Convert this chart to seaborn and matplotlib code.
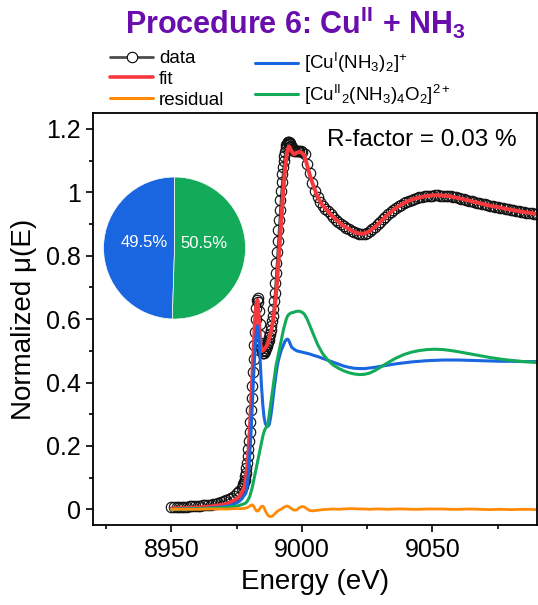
import matplotlib
matplotlib.use("Agg")
import matplotlib.pyplot as plt
from matplotlib.lines import Line2D
from matplotlib.ticker import MultipleLocator, FuncFormatter
import seaborn as sns

# measured spectrum (open circles)
energy_data = [
    8950, 8951, 8952, 8953, 8954, 8955, 8956, 8957, 8958, 8959,
    8960, 8961, 8962, 8963, 8964, 8965, 8966, 8967, 8968, 8969,
    8970, 8971, 8972, 8973, 8974, 8975, 8976, 8977,
    8977.25, 8977.5, 8977.75, 8978,
    8978.25, 8978.5, 8978.75, 8979,
    8979.25, 8979.5, 8979.75, 8980,
    8980.25, 8980.5, 8980.75, 8981,
    8981.25, 8981.5, 8981.75, 8982,
    8982.25, 8982.5, 8982.75, 8983,
    8983.25, 8983.5, 8983.75, 8984,
    8984.25, 8984.5, 8984.75, 8985,
    8985.25, 8985.5, 8985.75, 8986,
    8986.25, 8986.5, 8986.75, 8987,
    8987.25, 8987.5, 8987.75, 8988,
    8988.25, 8988.5, 8988.75, 8989,
    8989.25, 8989.5, 8989.75, 8990,
    8990.25, 8990.5, 8990.75, 8991,
    8991.25, 8991.5, 8991.75, 8992,
    8992.25, 8992.5, 8992.75, 8993,
    8993.25, 8993.5, 8993.75, 8994,
    8994.25, 8994.5, 8994.75, 8995,
    8995.25, 8995.5, 8995.75, 8996,
    8996.5, 8997, 8997.5, 8998, 8998.5, 8999, 8999.5, 9000,
    9001, 9002, 9003, 9004, 9005, 9006, 9007, 9008, 9009, 9010,
    9011, 9012, 9013, 9014, 9015, 9016, 9017, 9018, 9019, 9020,
    9021, 9022, 9023, 9024, 9025, 9026, 9027, 9028, 9029, 9030,
    9031, 9032, 9033, 9034, 9035, 9036, 9037, 9038, 9039, 9040,
    9041, 9042, 9043, 9044, 9045, 9046, 9047, 9048, 9049, 9050,
    9051, 9052, 9053, 9054, 9055, 9056, 9057, 9058, 9059, 9060,
    9061, 9062, 9063, 9064, 9065, 9066, 9067, 9068, 9069, 9070,
    9071, 9072, 9073, 9074, 9075, 9076, 9077, 9078, 9079, 9080,
    9081, 9082, 9083, 9084, 9085, 9086, 9087, 9088, 9089, 9090,
]
mu_data = [
    0.006, 0.006, 0.006, 0.007, 0.007, 0.008, 0.008, 0.009, 0.009, 0.010,
    0.010, 0.011, 0.012, 0.013, 0.014, 0.015, 0.016, 0.018, 0.020, 0.022,
    0.025, 0.028, 0.032, 0.037, 0.043, 0.050, 0.058, 0.068,
    0.073, 0.079, 0.086, 0.094,
    0.104, 0.116, 0.130, 0.147,
    0.167, 0.190, 0.216, 0.245,
    0.277, 0.312, 0.350, 0.390,
    0.432, 0.475, 0.518, 0.560,
    0.600, 0.635, 0.660, 0.668,
    0.655, 0.625, 0.585, 0.550,
    0.525, 0.508, 0.498, 0.493,
    0.492, 0.494, 0.498, 0.503,
    0.508, 0.514, 0.520, 0.527,
    0.535, 0.544, 0.554, 0.565,
    0.578, 0.593, 0.611, 0.632,
    0.656, 0.683, 0.713, 0.745,
    0.778, 0.812, 0.846, 0.880,
    0.913, 0.945, 0.976, 1.005,
    1.032, 1.057, 1.079, 1.098,
    1.114, 1.128, 1.139, 1.148,
    1.154, 1.158, 1.160, 1.159,
    1.156, 1.152, 1.147, 1.142,
    1.137, 1.132, 1.129, 1.129, 1.131, 1.132, 1.131, 1.128,
    1.120, 1.090, 1.060, 1.030, 1.005, 0.985, 0.970, 0.958, 0.948, 0.940,
    0.932, 0.922, 0.914, 0.907, 0.900, 0.894, 0.889, 0.884, 0.879, 0.875,
    0.872, 0.870, 0.869, 0.870, 0.873, 0.878, 0.884, 0.891, 0.899, 0.907,
    0.915, 0.923, 0.931, 0.938, 0.945, 0.951, 0.956, 0.961, 0.966, 0.970,
    0.974, 0.977, 0.980, 0.982, 0.984, 0.986, 0.988, 0.989, 0.990, 0.990,
    0.991, 0.991, 0.990, 0.990, 0.989, 0.988, 0.987, 0.985, 0.984, 0.982,
    0.980, 0.978, 0.976, 0.974, 0.972, 0.970, 0.968, 0.966, 0.964, 0.962,
    0.960, 0.958, 0.956, 0.955, 0.954, 0.952, 0.950, 0.948, 0.946, 0.945,
    0.943, 0.942, 0.940, 0.939, 0.938, 0.936, 0.935, 0.934, 0.933, 0.932,
]

# LCF fit, the two reference components and the residual
energy_fit = [
    8950, 8955, 8960, 8965, 8970, 8972, 8974, 8976, 8977, 8978,
    8978.5, 8979, 8979.5, 8980, 8980.5, 8981, 8981.5, 8982, 8982.5, 8983,
    8983.5, 8984, 8984.5, 8985, 8985.5, 8986, 8986.5, 8987, 8987.5, 8988,
    8988.5, 8989, 8989.5, 8990, 8990.5, 8991, 8991.5, 8992, 8992.5, 8993,
    8993.5, 8994, 8994.5, 8995, 8995.5, 8996, 8997, 8998, 8999, 9000,
    9001, 9002, 9003, 9004, 9006, 9008, 9010, 9012, 9014, 9016,
    9018, 9020, 9022, 9024, 9026, 9028, 9030, 9033, 9036, 9039,
    9042, 9045, 9048, 9051, 9054, 9057, 9060, 9064, 9068, 9072,
    9076, 9080, 9085, 9090,
]
mu_fit = [
    0.003, 0.004, 0.006, 0.009, 0.015, 0.020, 0.028, 0.040, 0.052, 0.072,
    0.095, 0.13, 0.18, 0.25, 0.33, 0.42, 0.51, 0.59, 0.645, 0.66,
    0.60, 0.53, 0.50, 0.50, 0.505, 0.51, 0.515, 0.525, 0.54, 0.555,
    0.575, 0.60, 0.63, 0.67, 0.72, 0.78, 0.84, 0.90, 0.96, 1.02,
    1.07, 1.11, 1.135, 1.145, 1.14, 1.13, 1.12, 1.125, 1.128, 1.125,
    1.115, 1.085, 1.055, 1.03, 0.985, 0.958, 0.94, 0.922, 0.907, 0.894,
    0.884, 0.875, 0.870, 0.870, 0.878, 0.891, 0.907, 0.931, 0.951, 0.966,
    0.977, 0.984, 0.989, 0.991, 0.990, 0.987, 0.982, 0.974, 0.966, 0.958,
    0.952, 0.945, 0.938, 0.932,
]
mu_cu1 = [
    0.000, 0.001, 0.002, 0.004, 0.008, 0.011, 0.016, 0.025, 0.033, 0.045,
    0.05, 0.07, 0.11, 0.17, 0.24, 0.33, 0.42, 0.50, 0.555, 0.578,
    0.55, 0.47, 0.39, 0.33, 0.29, 0.27, 0.262, 0.262, 0.268, 0.29,
    0.32, 0.355, 0.39, 0.42, 0.45, 0.47, 0.485, 0.50, 0.51, 0.52,
    0.53, 0.535, 0.537, 0.532, 0.522, 0.512, 0.505, 0.50, 0.498, 0.496,
    0.494, 0.492, 0.49, 0.487, 0.482, 0.476, 0.47, 0.464, 0.458, 0.452,
    0.448, 0.445, 0.444, 0.444, 0.446, 0.448, 0.451, 0.455, 0.459, 0.462,
    0.465, 0.467, 0.469, 0.470, 0.471, 0.471, 0.471, 0.470, 0.469, 0.468,
    0.467, 0.467, 0.466, 0.466,
]
mu_cu2 = [
    0.000, 0.001, 0.002, 0.003, 0.005, 0.007, 0.009, 0.012, 0.015, 0.018,
    0.02, 0.025, 0.032, 0.04, 0.055, 0.07, 0.09, 0.11, 0.13, 0.15,
    0.17, 0.19, 0.21, 0.23, 0.245, 0.255, 0.26, 0.27, 0.30, 0.33,
    0.36, 0.39, 0.42, 0.45, 0.47, 0.49, 0.51, 0.53, 0.55, 0.57,
    0.585, 0.60, 0.61, 0.615, 0.618, 0.62, 0.622, 0.625, 0.625, 0.622,
    0.615, 0.60, 0.58, 0.56, 0.52, 0.49, 0.47, 0.455, 0.445, 0.437,
    0.431, 0.427, 0.425, 0.426, 0.430, 0.438, 0.448, 0.463, 0.477, 0.488,
    0.496, 0.501, 0.504, 0.505, 0.504, 0.501, 0.497, 0.491, 0.485, 0.479,
    0.474, 0.470, 0.466, 0.463,
]
mu_resid = [
    0.000, 0.000, 0.000, 0.001, 0.001, 0.001, 0.002, 0.002, 0.002, 0.003,
    0.004, 0.005, 0.007, 0.010, 0.013, 0.014, 0.010, 0.002, -0.004, -0.006,
    -0.003, 0.004, 0.009, 0.010, 0.005, -0.005, -0.013, -0.019, -0.022, -0.023,
    -0.022, -0.019, -0.015, -0.011, -0.007, -0.004, -0.002, 0.000, 0.003, 0.006,
    0.008, 0.010, 0.010, 0.008, 0.005, 0.002, -0.003, -0.002, 0.005, 0.009,
    0.007, 0.001, -0.004, -0.005, -0.003, -0.001, 0.000, 0.001, 0.000, 0.001,
    0.002, 0.002, 0.001, 0.001, 0.000, 0.001, 0.001, 0.000, 0.001, 0.001,
    0.000, 0.000, 0.001, 0.001, 0.001, 0.000, 0.000, 0.001, 0.000, -0.001,
    0.000, -0.001, 0.000, -0.001,
]

# component fractions for the inset pie
pie_fractions = [49.5, 50.5]

lbl_cu1 = r"[Cu$^{\mathrm{I}}$(NH$_3$)$_2$]$^{+}$"
lbl_cu2 = r"[Cu$^{\mathrm{II}}$$_2$(NH$_3$)$_4$O$_2$]$^{2+}$"
title = r"Procedure 6: Cu$^{\mathbf{II}}$ + NH$_{\mathbf{3}}$"

c_data = "#4d4d4d"
c_fit = "#f7383c"
c_resid = "#ff8a05"
c_cu1 = "#1a66e0"
c_cu2 = "#13ab5a"
c_title = "#6a0dad"

sns.set_theme(style="ticks")
plt.rcParams["font.family"] = ["Liberation Sans", "DejaVu Sans"]
plt.rcParams["mathtext.fontset"] = "custom"
plt.rcParams["mathtext.rm"] = "Liberation Sans"
plt.rcParams["mathtext.it"] = "Liberation Sans:italic"
plt.rcParams["mathtext.bf"] = "Liberation Sans:bold"
for k in ["text.color", "axes.labelcolor", "xtick.color", "ytick.color",
          "axes.edgecolor"]:
    plt.rcParams[k] = "black"

fig = plt.figure(figsize=(5.38, 6.05), dpi=100)
ax = fig.add_axes([0.173, 0.132, 0.825, 0.681])

sns.lineplot(x=energy_data, y=mu_data, ax=ax, color=c_data, lw=1.0,
             marker="o", ms=7.5, mfc="none", mec="#111111", mew=0.85,
             errorbar=None, legend=False)
sns.lineplot(x=energy_fit, y=mu_fit, ax=ax, color=c_fit, lw=2.8,
             errorbar=None, legend=False)
sns.lineplot(x=energy_fit, y=mu_cu1, ax=ax, color=c_cu1, lw=2.2,
             errorbar=None, legend=False)
sns.lineplot(x=energy_fit, y=mu_cu2, ax=ax, color=c_cu2, lw=2.2,
             errorbar=None, legend=False)
sns.lineplot(x=energy_fit, y=mu_resid, ax=ax, color=c_resid, lw=2.0,
             errorbar=None, legend=False)

ax.set_xlim(8920, 9090)
ax.set_ylim(-0.05, 1.25)
ax.xaxis.set_major_locator(MultipleLocator(50))
ax.xaxis.set_minor_locator(MultipleLocator(25))
ax.yaxis.set_major_locator(MultipleLocator(0.2))
ax.yaxis.set_minor_locator(MultipleLocator(0.1))
ax.yaxis.set_major_formatter(FuncFormatter(lambda v, p: f"{v:g}"))
for s in ax.spines.values():
    s.set_linewidth(1.3)
    s.set_color("black")
ax.tick_params(which="both", direction="out", top=False, right=False,
               width=1.2, colors="black", labelsize=18, pad=4)
ax.tick_params(which="major", length=5)
ax.tick_params(which="minor", length=3)
ax.set_xlabel("Energy (eV)", fontsize=20, labelpad=5)
ax.set_ylabel("Normalized μ(E)", fontsize=20, labelpad=6)

ax.text(0.527, 0.934, "R-factor = 0.03 %", transform=ax.transAxes,
        fontsize=17.5, va="center", ha="left")

fig.text(0.55, 0.992, title, ha="center", va="top", fontsize=22,
         fontweight="bold", color=c_title)

# inset pie of the fitted fractions
ax_pie = fig.add_axes([0.1924, 0.4727, 0.264, 0.2347])
wedges, _, autotexts = ax_pie.pie(
    pie_fractions, colors=[c_cu1, c_cu2], startangle=90, counterclock=True,
    autopct="%.1f%%", pctdistance=0.42,
    wedgeprops=dict(edgecolor="white", linewidth=0.5),
    textprops=dict(color="white", fontsize=12))
for t in autotexts:
    x, y = t.get_position()
    t.set_position((x, y + 0.07))
ax_pie.set_xlim(-1, 1)
ax_pie.set_ylim(-1, 1)
ax_pie.set_aspect("equal")

# legends
h_data = Line2D([], [], color=c_data, lw=2, marker="o", ms=7.5, mfc="white",
                mec="black", mew=0.8)
h_fit = Line2D([], [], color=c_fit, lw=2.6)
h_resid = Line2D([], [], color=c_resid, lw=2.2)
h_cu1 = Line2D([], [], color=c_cu1, lw=2.2)
h_cu2 = Line2D([], [], color=c_cu2, lw=2.2)

leg_kw = dict(frameon=False, fontsize=13.5, handlelength=2.3,
              handletextpad=0.3, borderpad=0, borderaxespad=0,
              loc="upper left", numpoints=1)
fig.legend([h_data, h_fit, h_resid], ["data", "fit", "residual"],
           bbox_to_anchor=(110 / 538, 1 - 50 / 605), labelspacing=0.2,
           **leg_kw)
fig.legend([h_cu1, h_cu2], [lbl_cu1, lbl_cu2],
           bbox_to_anchor=(255 / 538, 1 - 51 / 605), labelspacing=0.4,
           **leg_kw)

fig.savefig("out.png", dpi=100)
